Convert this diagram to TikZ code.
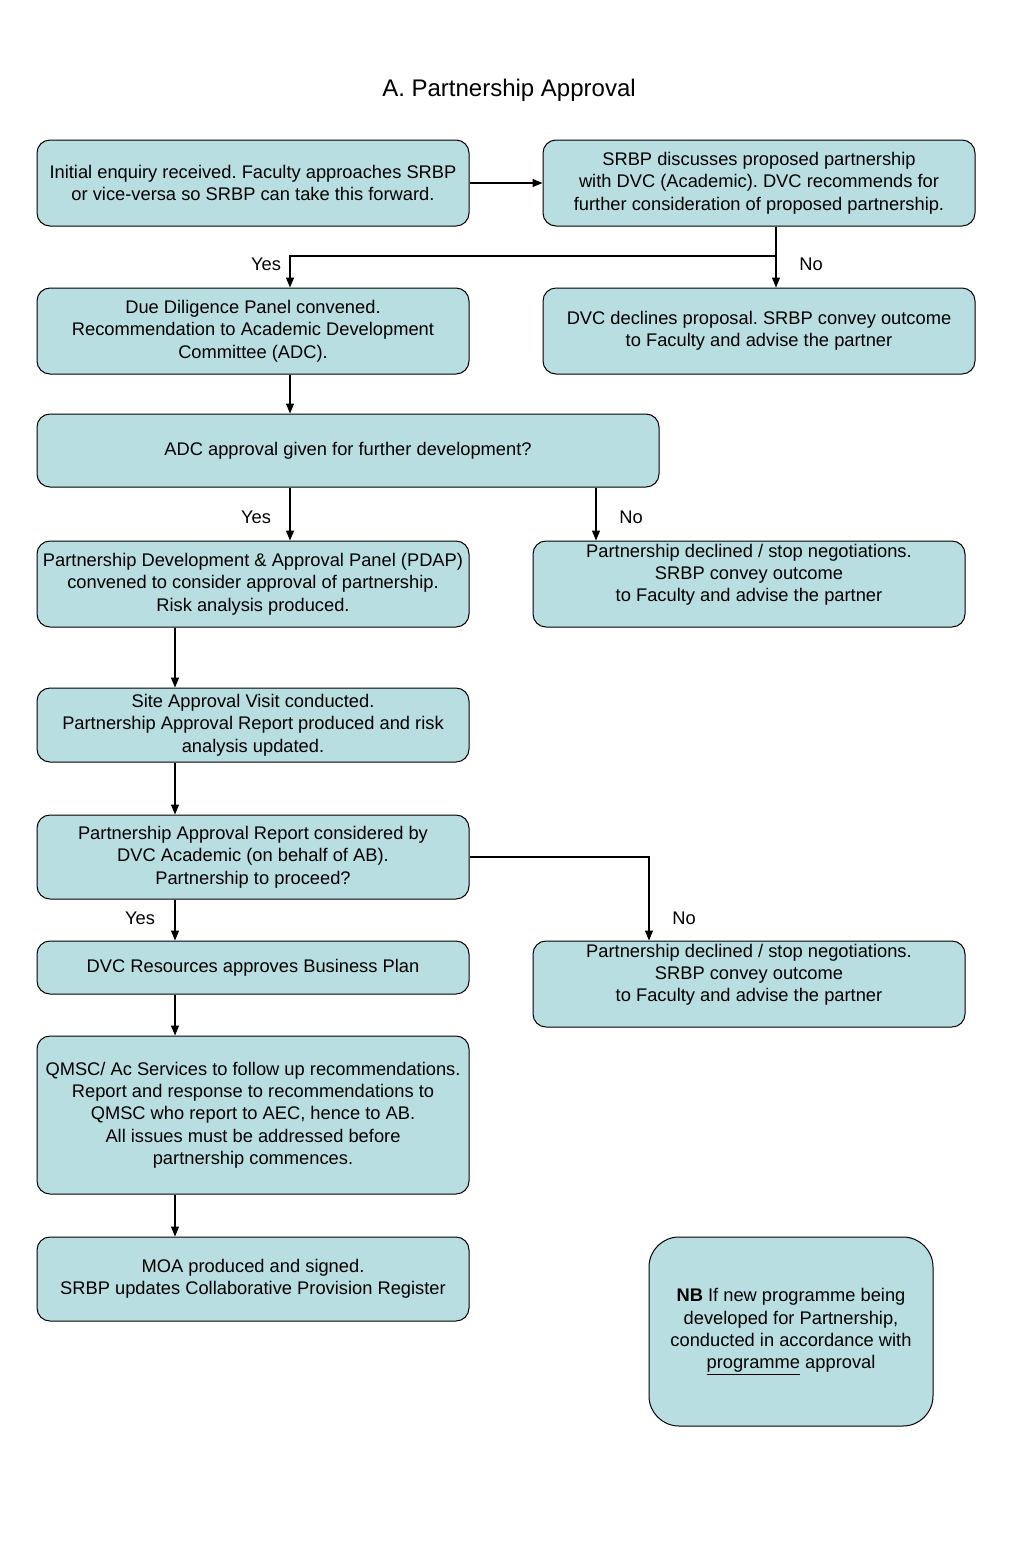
\documentclass[tikz,border=0pt]{standalone}
\usepackage{fontspec}
\setmainfont{Liberation Sans}
\usetikzlibrary{arrows.meta}
\definecolor{boxfill}{RGB}{184,222,225}
\begin{document}
\frenchspacing
\begin{tikzpicture}[x=1pt,y=-1pt,
 box/.style={draw=black, line width=1pt, fill=boxfill, rounded corners=13pt, align=center, font=\fontsize{18.3}{22.3}\selectfont, inner sep=0pt},
 arr/.style={line width=1.3pt, -{Triangle[length=10pt,width=8pt]}},
 plain/.style={line width=1.3pt},
 lbl/.style={font=\fontsize{18.3}{22.3}\selectfont, inner sep=0pt}]
\useasboundingbox (0,0) rectangle (1024,1567);
\fill[white] (0,0) rectangle (1024,1567);

\node[font=\fontsize{24}{28}\selectfont] (title) at (509,90) {A. Partnership Approval};

\node[box, minimum width=432pt, minimum height=86pt] (b1) at (253,183)
 {Initial enquiry received. Faculty approaches SRBP\\or vice-versa so SRBP can take this forward.};
\node[box, minimum width=432pt, minimum height=86pt] (b2) at (759,183)
 {SRBP discusses proposed partnership\\with DVC (Academic). DVC recommends for\\further consideration of proposed partnership.};
\node[box, minimum width=432pt, minimum height=86pt] (b3) at (253,331)
 {Due Diligence Panel convened.\\Recommendation to Academic Development\\Committee (ADC).};
\node[box, minimum width=432pt, minimum height=86pt] (b4) at (759,331)
 {DVC declines proposal. SRBP convey outcome\\to Faculty and advise the partner};
\node[box, minimum width=622pt, minimum height=73pt] (b5) at (348,450.5)
 {ADC approval given for further development?};
\node[box, minimum width=432pt, minimum height=86pt] (b6) at (253,584)
 {Partnership Development \& Approval Panel (PDAP)\\convened to consider approval of partnership.\\Risk analysis produced.};
\node[box, minimum width=432pt, minimum height=86pt] (b7) at (749,584)
 {Partnership declined / stop negotiations.\\SRBP convey outcome\\to Faculty and advise the partner\\\mbox{}};
\node[box, minimum width=432pt, minimum height=74pt] (b8) at (253,725)
 {Site Approval Visit conducted.\\Partnership Approval Report produced and risk\\analysis updated.};
\node[box, minimum width=432pt, minimum height=84pt] (b9) at (253,857)
 {Partnership Approval Report considered by\\DVC Academic (on behalf of AB).\\Partnership to proceed?};
\node[box, minimum width=432pt, minimum height=53pt] (b10) at (253,967.5)
 {DVC Resources approves Business Plan};
\node[box, minimum width=432pt, minimum height=86pt] (b11) at (749,984)
 {Partnership declined / stop negotiations.\\SRBP convey outcome\\to Faculty and advise the partner\\\mbox{}};
\node[box, minimum width=432pt, minimum height=158pt] (b12) at (253,1115)
 {QMSC/ Ac Services to follow up recommendations.\\Report and response to recommendations to\\QMSC who report to AEC, hence to AB.\\All issues must be addressed before\\partnership commences.};
\node[box, minimum width=432pt, minimum height=84pt] (b13) at (253,1279)
 {MOA produced and signed.\\SRBP updates Collaborative Provision Register};
\node[box, rounded corners=30pt, minimum width=284pt, minimum height=189pt] (b14) at (791,1331.5)
 {\textbf{NB} If new programme being\\developed for Partnership,\\conducted in accordance with\\\underline{programme} approval};

% junction coordinates
\coordinate (j1) at (776,256);
\coordinate (j2) at (290,256);
\coordinate (j3) at (596,0);
\coordinate (j4) at (175,0);
\coordinate (j5) at (649,0);

\draw[arr] (b1.east) -- (b2.west);
\draw[plain] (b2.south -| j1) -- (j1);
\draw[arr] (j1) -- (b4.north -| j1);
\draw[arr] (j1) -- (j2) -- (b3.north -| j2);
\draw[arr] (b3.south -| j2) -- (b5.north -| j2);
\draw[arr] (b5.south -| j2) -- (b6.north -| j2);
\draw[arr] (b5.south -| j3) -- (b7.north -| j3);
\draw[arr] (b6.south -| j4) -- (b8.north -| j4);
\draw[arr] (b8.south -| j4) -- (b9.north -| j4);
\draw[arr] (b9.south -| j4) -- (b10.north -| j4);
\draw[arr] (b9.east) -| (b11.north -| j5);
\draw[arr] (b10.south -| j4) -- (b12.north -| j4);
\draw[arr] (b12.south -| j4) -- (b13.north -| j4);

\node[lbl] (y1) at (266,264) {Yes};
\node[lbl] (n1) at (811,264) {No};
\node[lbl] (y2) at (256,517) {Yes};
\node[lbl] (n2) at (631,517) {No};
\node[lbl] (y3) at (140,918) {Yes};
\node[lbl] (n3) at (684,918) {No};
\end{tikzpicture}
\end{document}
